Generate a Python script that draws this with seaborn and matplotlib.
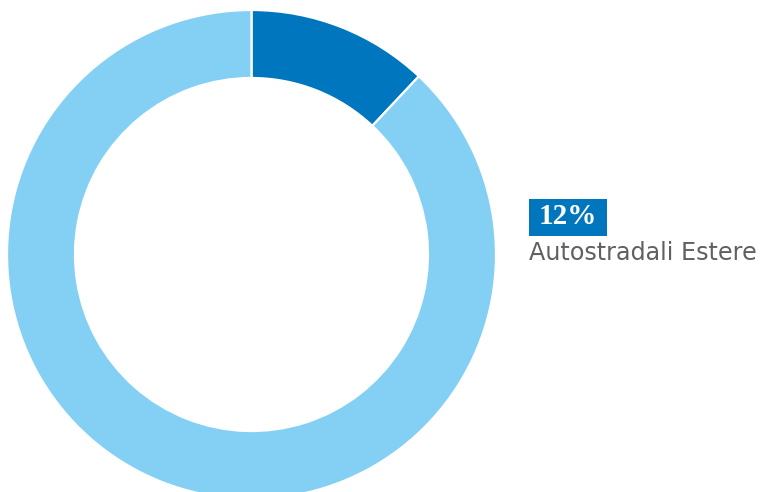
import matplotlib
matplotlib.use("Agg")
import matplotlib.pyplot as plt
from matplotlib.patches import Rectangle
import seaborn as sns

# Share of the portfolio
categories = ["Autostradali Estere", "Altro"]
values = [12, 88]
colors = ["#0076BF", "#84D0F4"]
label_text = f"{values[0]}%"

sns.set_theme(style="white")
plt.rcParams["font.family"] = ["DejaVu Sans"]

W, H = 762, 492
fig = plt.figure(figsize=(W / 100, H / 100), dpi=100)

# donut axes, placed in pixel units
cx, cy, r = 251.5, 254.5, 244.5
ax = fig.add_axes([(cx - r) / W, (H - cy - r) / H, 2 * r / W, 2 * r / H])
ax.pie(values, colors=colors, startangle=90, counterclock=False, radius=1.0,
       wedgeprops=dict(width=68 / 244.5, edgecolor="white", linewidth=1.6))
ax.set_xlim(-1, 1)
ax.set_ylim(-1, 1)
ax.set_aspect("equal")
ax.axis("off")

# percentage badge
bx0, by0, bx1, by1 = 528.5, 198.5, 607, 235.5
fig.add_artist(Rectangle((bx0 / W, 1 - by1 / H), (bx1 - bx0) / W, (by1 - by0) / H,
                         transform=fig.transFigure, facecolor=colors[0], edgecolor="none"))
fig.text((bx0 + bx1) / 2 / W, 1 - (by0 + by1) / 2 / H + 0.002, label_text, color="white",
         fontsize=21, fontweight="bold", family=["Liberation Serif", "DejaVu Serif"],
         ha="center", va="center")

fig.text(529 / W, 1 - 260.5 / H, categories[0], color="#606060", fontsize=17.2,
         ha="left", va="baseline")

fig.savefig("out.png", dpi=100)
